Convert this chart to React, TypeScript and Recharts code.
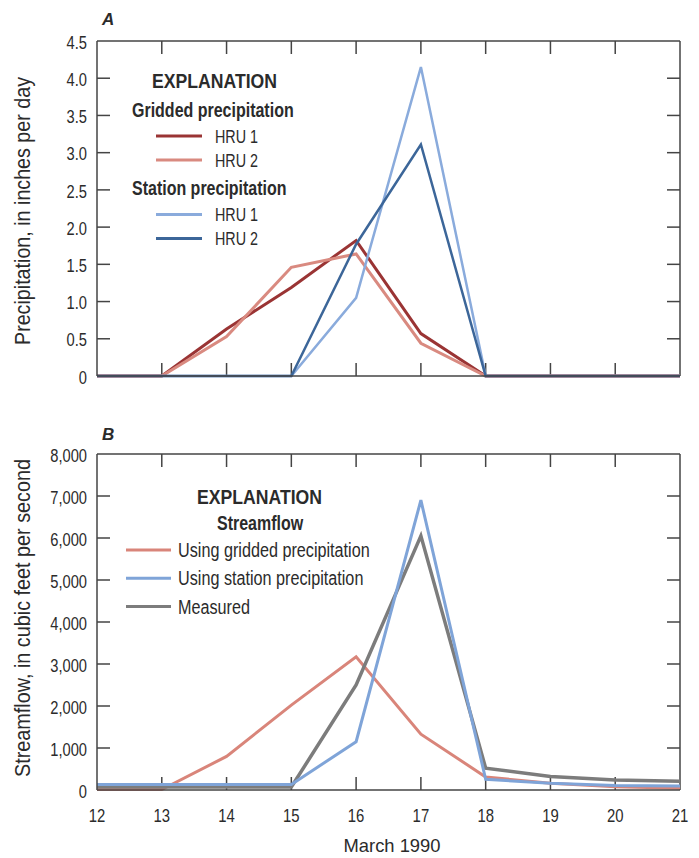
import React from "react";
import { LineChart, Line, XAxis, YAxis, ReferenceLine } from "recharts";

// Days of March 1990
const days = [12, 13, 14, 15, 16, 17, 18, 19, 20, 21];

// Panel A: daily precipitation, inches per day
const griddedHru1 = [0, 0, 0.63, 1.19, 1.82, 0.57, 0, 0, 0, 0];
const griddedHru2 = [0, 0, 0.53, 1.46, 1.64, 0.44, 0, 0, 0, 0];
const stationHru1 = [0, 0, 0, 0, 1.05, 4.15, 0, 0, 0, 0];
const stationHru2 = [0, 0, 0, 0, 1.77, 3.11, 0, 0, 0, 0];

// Panel B: streamflow, cubic feet per second
const flowGridded = [10, 10, 800, 2020, 3170, 1330, 310, 160, 80, 40];
const flowStation = [130, 130, 130, 130, 1150, 6900, 255, 160, 110, 95];
const flowMeasured = [70, 70, 70, 70, 2500, 6050, 520, 320, 240, 210];

const precipTicks = [0, 0.5, 1, 1.5, 2, 2.5, 3, 3.5, 4, 4.5];
const flowTicks = [0, 1000, 2000, 3000, 4000, 5000, 6000, 7000, 8000];

const FONT = "'Liberation Sans', Arial, sans-serif";
const NARROW = 0.82;
const INK = "#2b2b2b";
const FRAME = "#444444";
const TICK_LEN = 13;

const C_DARKRED = "#9a3434";
const C_SALMON = "#d98a80";
const C_LIGHTBLUE = "#8aabdc";
const C_STEEL = "#3c6699";
const C_FLOW_RED = "#d9857a";
const C_FLOW_BLUE = "#7fa4d8";
const C_GRAY = "#7c7c7c";

const precipData = days.map((d, i) => ({
  day: d,
  g1: griddedHru1[i],
  g2: griddedHru2[i],
  s1: stationHru1[i],
  s2: stationHru2[i],
}));

const flowData = days.map((d, i) => ({
  day: d,
  gridded: flowGridded[i],
  station: flowStation[i],
  measured: flowMeasured[i],
}));

const precipLegend = [
  { group: "Gridded precipitation", items: [
    { label: "HRU 1", color: C_DARKRED },
    { label: "HRU 2", color: C_SALMON },
  ] },
  { group: "Station precipitation", items: [
    { label: "HRU 1", color: C_LIGHTBLUE },
    { label: "HRU 2", color: C_STEEL },
  ] },
];

const flowLegend = [
  { label: "Using gridded precipitation", color: C_FLOW_RED },
  { label: "Using station precipitation", color: C_FLOW_BLUE },
  { label: "Measured", color: C_GRAY },
];

const fmtPrecip = (v: number) => (v === 0 ? "0" : v.toFixed(1));
const fmtFlow = (v: number) => (v === 0 ? "0" : v.toLocaleString("en-US"));
const inner = (arr: number[]) => arr.slice(1, -1);

// Condensed text: Liberation Sans squeezed horizontally
function NText({ x, y, size, anchor = "start", weight = "normal", sx = NARROW, children }: any) {
  return (
    <text transform={`translate(${x},${y}) scale(${sx},1)`} textAnchor={anchor} fontFamily={FONT}
      fontSize={size} fontWeight={weight} fill={INK}>
      {children}
    </text>
  );
}

// Value labels on the left axis
const makeLeftTick = (fmt: (v: number) => string) => (props: any) => {
  const { x, y, payload } = props;
  return (
    <text transform={`translate(${x},${y + 1}) scale(0.79,1)`} textAnchor="end" dy="0.36em"
      fontFamily={FONT} fontSize={18.6} fill={INK}>{fmt(payload.value)}</text>
  );
};

// Day labels under the bottom axis
const BottomTick = (props: any) => {
  const { x, y, payload } = props;
  return (
    <text transform={`translate(${x},${y + 32}) scale(0.8,1)`} textAnchor="middle"
      fontFamily={FONT} fontSize={18.6} fill={INK}>{payload.value}</text>
  );
};

const NoTick = () => <g />;

// Short inward tick marks at both ends of a vertical reference line (top and bottom frame)
const VerticalTicks = (props: any) => {
  const { x1, y1, y2 } = props;
  const top = Math.min(y1, y2);
  const bot = Math.max(y1, y2);
  return (
    <g stroke={FRAME} strokeWidth={1.5}>
      <line x1={x1} x2={x1} y1={top} y2={top + TICK_LEN} />
      <line x1={x1} x2={x1} y1={bot} y2={bot - TICK_LEN} />
    </g>
  );
};

// Short inward tick marks at both ends of a horizontal reference line (left and right frame)
const HorizontalTicks = (props: any) => {
  const { x1, x2, y1 } = props;
  const left = Math.min(x1, x2);
  const right = Math.max(x1, x2);
  return (
    <g stroke={FRAME} strokeWidth={1.5}>
      <line x1={left} x2={left + TICK_LEN} y1={y1} y2={y1} />
      <line x1={right} x2={right - TICK_LEN} y1={y1} y2={y1} />
    </g>
  );
};

function FrameMarks({ yTicks }: { yTicks: number[] }) {
  return null;
}

export default function App() {
  const W = 699;
  const pMax = precipTicks[precipTicks.length - 1];
  const fMax = flowTicks[flowTicks.length - 1];
  const dLast = days[days.length - 1];
  return (
    <div style={{ position: "absolute", left: 0, top: 0, width: W, height: 858, background: "#fff" }}>
      {/* Panel A */}
      <div style={{ position: "absolute", left: 0, top: 0 }}>
        <LineChart width={W} height={400} data={precipData} margin={{ top: 41, right: 19, bottom: 23, left: 0 }}>
          <XAxis dataKey="day" type="number" domain={[12, 21]} ticks={days} height={1}
            tickSize={0} tickLine={false} tick={NoTick} stroke={FRAME} strokeWidth={1.5} />
          <YAxis type="number" domain={[0, pMax]} ticks={precipTicks} width={97}
            tickSize={0} tickMargin={10} tickLine={false} stroke={FRAME} strokeWidth={1.5}
            tick={makeLeftTick(fmtPrecip)} />
          {inner(days).map((d) => (
            <ReferenceLine key={`vx${d}`} x={d} shape={VerticalTicks} />
          ))}
          {inner(precipTicks).map((v) => (
            <ReferenceLine key={`hy${v}`} y={v} shape={HorizontalTicks} />
          ))}
          <ReferenceLine y={pMax} stroke={FRAME} strokeWidth={1.5} />
          <ReferenceLine x={dLast} stroke={FRAME} strokeWidth={1.5} />
          <Line dataKey="g1" stroke={C_DARKRED} strokeWidth={3} dot={false} isAnimationActive={false} />
          <Line dataKey="g2" stroke={C_SALMON} strokeWidth={3} dot={false} isAnimationActive={false} />
          <Line dataKey="s1" stroke={C_LIGHTBLUE} strokeWidth={2.5} dot={false} isAnimationActive={false} />
          <Line dataKey="s2" stroke={C_STEEL} strokeWidth={2.5} dot={false} isAnimationActive={false} />
        </LineChart>
      </div>

      {/* Panel B */}
      <div style={{ position: "absolute", left: 0, top: 420 }}>
        <LineChart width={W} height={438} data={flowData} margin={{ top: 34, right: 19, bottom: 4, left: 0 }}>
          <XAxis dataKey="day" type="number" domain={[12, 21]} ticks={days} height={64}
            tickSize={0} tickMargin={0} tickLine={false} stroke={FRAME} strokeWidth={1.5} tick={BottomTick} />
          <YAxis type="number" domain={[0, fMax]} ticks={flowTicks} width={97}
            tickSize={0} tickMargin={10} tickLine={false} stroke={FRAME} strokeWidth={1.5}
            tick={makeLeftTick(fmtFlow)} />
          {inner(days).map((d) => (
            <ReferenceLine key={`vx${d}`} x={d} shape={VerticalTicks} />
          ))}
          {inner(flowTicks).map((v) => (
            <ReferenceLine key={`hy${v}`} y={v} shape={HorizontalTicks} />
          ))}
          <ReferenceLine y={fMax} stroke={FRAME} strokeWidth={1.5} />
          <ReferenceLine x={dLast} stroke={FRAME} strokeWidth={1.5} />
          <Line dataKey="gridded" stroke={C_FLOW_RED} strokeWidth={3} dot={false} isAnimationActive={false} />
          <Line dataKey="measured" stroke={C_GRAY} strokeWidth={3.5} dot={false} isAnimationActive={false} />
          <Line dataKey="station" stroke={C_FLOW_BLUE} strokeWidth={3} dot={false} isAnimationActive={false} />
        </LineChart>
      </div>

      {/* Panel letters, axis titles and explanations */}
      <svg width={W} height={858} style={{ position: "absolute", left: 0, top: 0, pointerEvents: "none" }}>
        <text x={102} y={25} fontFamily={FONT} fontSize={17} fontWeight="bold" fontStyle="italic" fill={INK}>A</text>
        <text x={102} y={440} fontFamily={FONT} fontSize={17} fontWeight="bold" fontStyle="italic" fill={INK}>B</text>

        <text transform="translate(29.5,211) rotate(-90)" textAnchor="middle" fontFamily={FONT} fontSize={22}
          fill={INK} textLength={268} lengthAdjust="spacingAndGlyphs">Precipitation, in inches per day</text>
        <text transform="translate(29.5,618) rotate(-90)" textAnchor="middle" fontFamily={FONT} fontSize={22}
          fill={INK} textLength={318} lengthAdjust="spacingAndGlyphs">Streamflow, in cubic feet per second</text>
        <text x={392} y={852} textAnchor="middle" fontFamily={FONT} fontSize={19} fill={INK}
          textLength={97} lengthAdjust="spacingAndGlyphs">March 1990</text>

        <NText x={152} y={88} size={21} weight="bold" sx={0.84}>EXPLANATION</NText>
        {precipLegend.map((g, gi) => {
          const base = 116.5 + gi * 78.5;
          return (
            <g key={g.group}>
              <NText x={132} y={base} size={19.5} weight="bold">{g.group}</NText>
              {g.items.map((it, ii) => {
                const ty = base + 26 + ii * 24;
                return (
                  <g key={it.label}>
                    <line x1={156} x2={202} y1={ty - 6.5} y2={ty - 6.5} stroke={it.color} strokeWidth={3} />
                    <NText x={215} y={ty} size={17.7} sx={0.81}>{it.label}</NText>
                  </g>
                );
              })}
            </g>
          );
        })}

        <NText x={197} y={504} size={21} weight="bold" sx={0.84}>EXPLANATION</NText>
        <NText x={217} y={530} size={19.5} weight="bold">Streamflow</NText>
        {flowLegend.map((it, i) => {
          const ty = 557 + i * 28.3;
          return (
            <g key={it.label}>
              <line x1={126} x2={171} y1={ty - 7} y2={ty - 7} stroke={it.color} strokeWidth={3} />
              <NText x={178} y={ty} size={20} sx={0.81}>{it.label}</NText>
            </g>
          );
        })}
      </svg>
    </div>
  );
}
